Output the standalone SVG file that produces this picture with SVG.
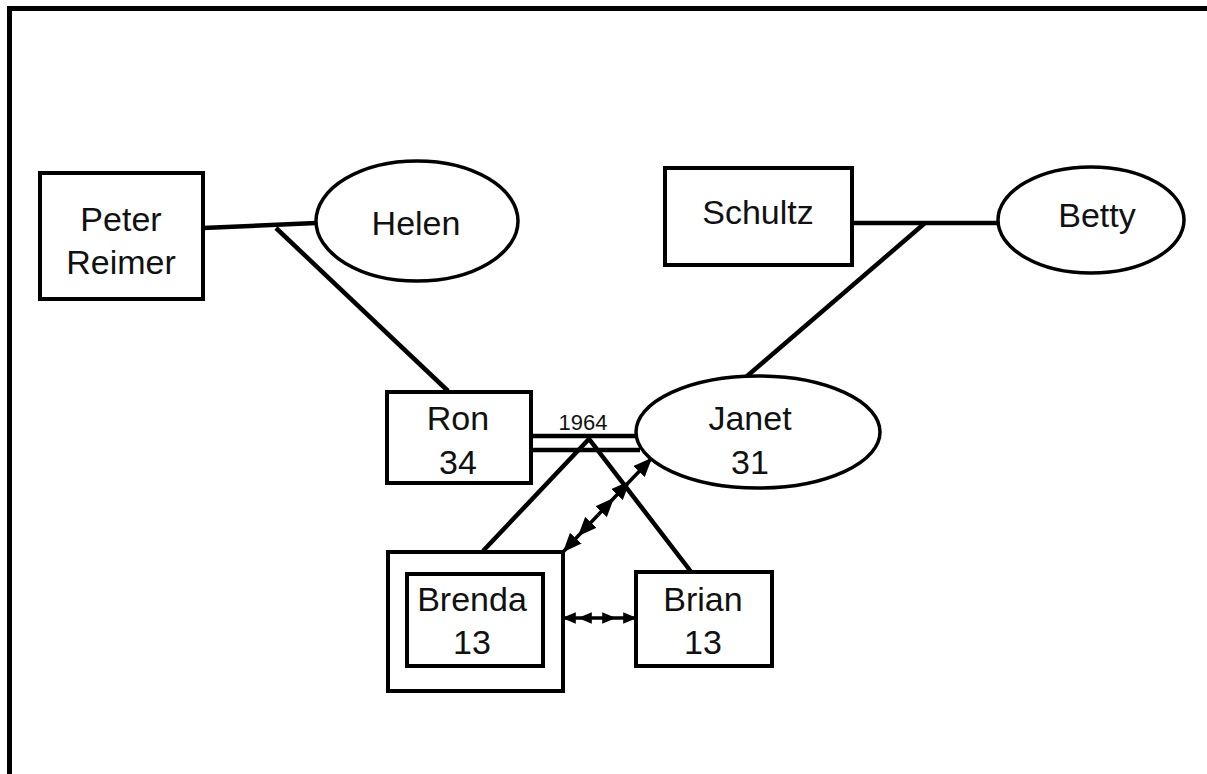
<svg xmlns="http://www.w3.org/2000/svg" width="1207" height="774" viewBox="0 0 1207 774">
<style>
.box{fill:#fff;stroke:#000;stroke-width:4}
.ell{fill:#fff;stroke:#000;stroke-width:3.5}
.t{font-family:"Liberation Sans",Arial,sans-serif;font-size:34px;fill:#111;text-anchor:middle}
.yr{font-family:"Liberation Sans",Arial,sans-serif;font-size:22px;fill:#111;text-anchor:middle}
.ln{fill:none;stroke:#000;stroke-width:4.5}
.ar{fill:none;stroke:#000;stroke-width:3.5}
</style>
<defs>
<marker id="ah" viewBox="0 0 12 10" refX="11" refY="5" markerWidth="19" markerHeight="16" orient="auto" markerUnits="userSpaceOnUse">
<path d="M0,0 L12,5 L0,10 z" fill="#000"/>
</marker>
<marker id="ahs" viewBox="0 0 12 10" refX="11" refY="5" markerWidth="14" markerHeight="12" orient="auto" markerUnits="userSpaceOnUse">
<path d="M0,0 L12,5 L0,10 z" fill="#000"/>
</marker>
</defs>
<rect width="1207" height="774" fill="#fff"/>
<g id="frame">
<line x1="7" y1="8.5" x2="1207" y2="8.5" stroke="#000" stroke-width="5"/>
<line x1="9.5" y1="6" x2="9.5" y2="774" stroke="#000" stroke-width="5"/>
</g>
<g id="connectors">
<line class="ln" x1="203" y1="228" x2="316" y2="223"/>
<line class="ln" x1="276" y1="228" x2="448" y2="391"/>
<line class="ln" x1="852" y1="223" x2="999" y2="223"/>
<line class="ln" x1="925" y1="223" x2="746" y2="377"/>
<line class="ln" x1="531" y1="436" x2="638" y2="436"/>
<line class="ln" x1="531" y1="450" x2="640" y2="450"/>
<polyline class="ln" points="483,551 589,439 692,573"/>
<path class="ar" d="M598,515 L613,499 L629,482 L651,459" marker-mid="url(#ah)" marker-end="url(#ah)"/>
<path class="ar" d="M598,515 L579,535 L564,551 L546,571" marker-mid="url(#ah)" marker-end="url(#ah)"/>
<path class="ar" d="M597,618 L579,618 L563,618" marker-mid="url(#ahs)" marker-end="url(#ahs)"/>
<path class="ar" d="M597,618 L615,618 L636,618" marker-mid="url(#ahs)" marker-end="url(#ahs)"/>
</g>
<g id="peter">
<rect class="box" x="40" y="173" width="163" height="126" stroke-width="5"/>
<text class="t" x="121" y="231">Peter</text>
<text class="t" x="121" y="274">Reimer</text>
</g>
<g id="helen">
<ellipse class="ell" cx="417" cy="221" rx="101" ry="60"/>
<text class="t" x="416" y="235">Helen</text>
</g>
<g id="schultz">
<rect class="box" x="665" y="168" width="187" height="97" stroke-width="3.5"/>
<text class="t" x="758" y="224">Schultz</text>
</g>
<g id="betty">
<ellipse class="ell" cx="1091" cy="220" rx="93" ry="53"/>
<text class="t" x="1097" y="227">Betty</text>
</g>
<g id="ron">
<rect class="box" x="387" y="392" width="144" height="91" stroke-width="3.5"/>
<text class="t" x="458" y="430">Ron</text>
<text class="t" x="458" y="474">34</text>
</g>
<g id="janet">
<ellipse class="ell" cx="758" cy="432" rx="122" ry="56"/>
<text class="t" x="750" y="430">Janet</text>
<text class="t" x="750" y="474">31</text>
</g>
<text class="yr" x="583" y="430">1964</text>
<g id="brenda">
<rect class="box" x="388" y="552" width="175" height="139"/>
<rect class="box" x="407" y="574" width="136" height="92"/>
<text class="t" x="472" y="611">Brenda</text>
<text class="t" x="472" y="654">13</text>
</g>
<g id="brian">
<rect class="box" x="636" y="572" width="136" height="94" stroke-width="3.5"/>
<text class="t" x="703" y="611">Brian</text>
<text class="t" x="703" y="654">13</text>
</g>
</svg>
